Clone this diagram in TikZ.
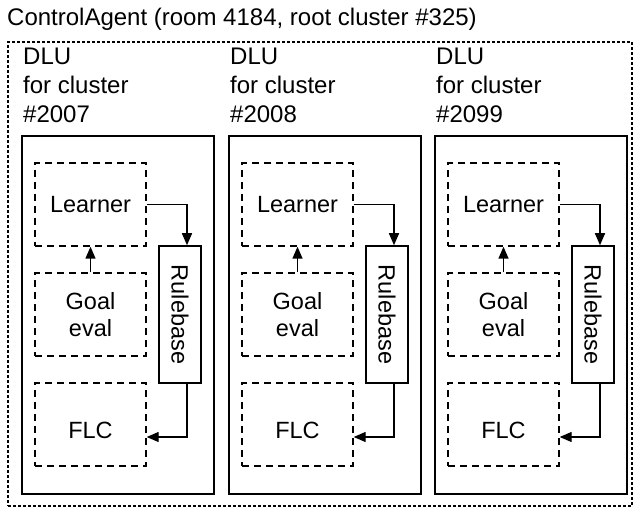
\documentclass[tikz,border=0pt]{standalone}
\usepackage{fontspec}
\setmainfont{Liberation Sans}
\usetikzlibrary{arrows.meta}
\begin{document}
\begin{tikzpicture}[x=1pt,y=-1pt,
  lbl/.style={font=\fontsize{24}{29}\selectfont, inner sep=0pt},
  ilbl/.style={font=\fontsize{23.5}{27}\selectfont, inner sep=0pt},
  dlubox/.style={draw, line width=1.5pt, minimum width=192pt, minimum height=358pt, inner sep=0pt},
  compbox/.style={draw, line width=1.4pt, dash pattern=on 7pt off 5pt, minimum width=111pt, minimum height=83pt, inner sep=0pt, font=\fontsize{23.5}{27}\selectfont, align=center},
  rbbox/.style={draw, line width=1.5pt, minimum width=42pt, minimum height=137pt, inner sep=0pt},
  arr/.style={line width=1.4pt, -{Triangle[length=12pt,width=10pt]}}
]
\useasboundingbox (0,0) rectangle (638,508);
\node[lbl, anchor=base west] (title) at (7,26) {ControlAgent (room 4184, root cluster \#325)};
\node[draw, line width=1.2pt, dash pattern=on 3pt off 2pt, minimum width=624pt, minimum height=464pt, inner sep=0pt] (agent) at (320,274) {};
\foreach \i/\x/\n in {1/22/2007, 2/229/2008, 3/435/2099}{
  \node[lbl, anchor=north west, align=left] (dlut\i) at (\x+1,47.5) {DLU\\for cluster\\\#\n};
  \node[dlubox] (dlu\i) at (\x+96,315) {};
  \node[compbox] (learner\i) at (\x+68.5,204.5) {Learner};
  \node[compbox] (goal\i) at (\x+68.5,314.5) {Goal\\eval};
  \node[compbox] (flc\i) at (\x+68.5,424.5) {};
  \node[ilbl, anchor=base] (flct\i) at (\x+68.5,438.5) {FLC};
  \node[rbbox] (rb\i) at (\x+158,314.5) {};
  \node[ilbl, rotate=-90] (rbt\i) at (rb\i) {Rulebase};
  \draw[arr] (learner\i.east) -| ([xshift=7pt]rb\i.north);
  \draw[arr] (goal\i.north) -- (learner\i.south);
  \draw[arr] ([xshift=7pt]rb\i.south) |- ([yshift=-12.5pt]flc\i.east);
}
\end{tikzpicture}
\end{document}
